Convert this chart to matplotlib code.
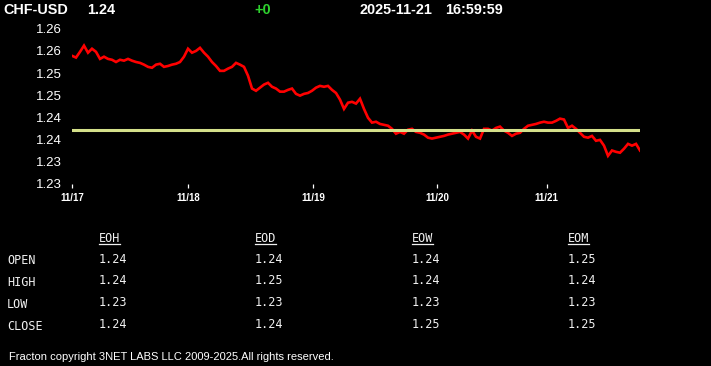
import matplotlib
matplotlib.use('Agg')
import matplotlib.pyplot as plt
from matplotlib.lines import Line2D
from matplotlib.ticker import FormatStrFormatter
import numpy as np

# --- data -----------------------------------------------------------------
symbol = 'CHF-USD'
last_price = '1.24'
change = '+0'
stamp_date = '2025-11-21'
stamp_time = '16:59:59'

price = [
    1.2569, 1.2565, 1.2578, 1.2592, 1.2576, 1.2585, 1.2578, 1.2562, 1.2567, 1.2562,
    1.2560, 1.2555, 1.2560, 1.2558, 1.2562, 1.2558, 1.2555, 1.2553, 1.2549, 1.2544,
    1.2542, 1.2549, 1.2551, 1.2544, 1.2546, 1.2549, 1.2551, 1.2555, 1.2567, 1.2585,
    1.2576, 1.2580, 1.2587, 1.2576, 1.2567, 1.2555, 1.2546, 1.2535, 1.2535, 1.2540,
    1.2544, 1.2553, 1.2549, 1.2544, 1.2524, 1.2495, 1.2490, 1.2497, 1.2504, 1.2508,
    1.2499, 1.2495, 1.2488, 1.2488, 1.2492, 1.2495, 1.2483, 1.2479, 1.2483, 1.2485,
    1.2490, 1.2497, 1.2501, 1.2499, 1.2501, 1.2492, 1.2485, 1.2470, 1.2449, 1.2463,
    1.2465, 1.2461, 1.2472, 1.2449, 1.2429, 1.2418, 1.2420, 1.2415, 1.2413, 1.2411,
    1.2404, 1.2393, 1.2397, 1.2393, 1.2402, 1.2404, 1.2397, 1.2395, 1.2391, 1.2384,
    1.2382, 1.2384, 1.2386, 1.2388, 1.2391, 1.2393, 1.2395, 1.2397, 1.2391, 1.2382,
    1.2400, 1.2386, 1.2382, 1.2404, 1.2404, 1.2400, 1.2406, 1.2409, 1.2400, 1.2395,
    1.2388, 1.2393, 1.2395, 1.2404, 1.2411, 1.2413, 1.2415, 1.2418, 1.2420, 1.2418,
    1.2418, 1.2422, 1.2427, 1.2425, 1.2406, 1.2411, 1.2404, 1.2395, 1.2386, 1.2384,
    1.2388, 1.2377, 1.2379, 1.2366, 1.2343, 1.2355, 1.2352, 1.2350, 1.2359, 1.2370,
    1.2366, 1.2370, 1.2355,
]
ref_level = 1.2402

# sample index where each day starts
day_pos = [0, 29.1, 60.3, 91.3, 118.7]
day_labels = ['11/17', '11/18', '11/19', '11/20', '11/21']

y_ticks = [1.228, 1.233, 1.238, 1.243, 1.248, 1.253, 1.258, 1.263]

row_names = ['OPEN', 'HIGH', 'LOW', 'CLOSE']
col_names = ['EOH', 'EOD', 'EOW', 'EOM']
eoh = ['1.24', '1.24', '1.23', '1.24']
eod = ['1.24', '1.25', '1.23', '1.24']
eow = ['1.24', '1.24', '1.23', '1.25']
eom = ['1.25', '1.24', '1.23', '1.25']

footer = 'Fracton copyright 3NET LABS LLC 2009-2025.All rights reserved.'

# --- figure ---------------------------------------------------------------
W, H = 711, 366
fig = plt.figure(figsize=(W / 100, H / 100), dpi=100, facecolor='black')


def px_text(x, y, s, **kw):
    """текст по пиксельным координатам (y сверху, по базовой линии)"""
    return fig.text(x / W, 1 - y / H, s, ha='left', va='baseline', **kw)


ax = fig.add_axes([72 / W, (H - 183.7) / H, 568 / W, 154.9 / H])
ax.set_facecolor('black')
x = np.arange(len(price))
ax.plot(x, price, color='#ff0000', lw=1.9, solid_joinstyle='miter')
ax.axhline(ref_level, color='#d4e08a', lw=2.2)
ax.set_xlim(0, len(price) - 1)
ax.set_ylim(y_ticks[0], y_ticks[-1])

for s in ax.spines.values():
    s.set_visible(False)

ax.set_yticks(y_ticks)
ax.yaxis.set_major_formatter(FormatStrFormatter('%.2f'))
ax.tick_params(axis='y', length=0, pad=7.3, labelcolor='white', labelsize=9.5)
ax.set_xticks(day_pos)
ax.set_xticklabels(day_labels, fontweight='bold', fontsize=7)
ax.tick_params(axis='x', length=3, width=0.9, color='white', pad=3.4, labelcolor='white')
for lbl in ax.get_yticklabels():
    lbl.set_family('Liberation Sans')
for lbl in ax.get_xticklabels():
    lbl.set_family('Liberation Sans')

# header
head = dict(family='Liberation Sans', fontweight='bold', fontsize=10.4, color='white')
px_text(3.5, 14, symbol, **head)
px_text(87, 14, last_price, **head)
px_text(254, 14, change, **{**head, 'color': '#2ed12e'})
px_text(359, 14, stamp_date, **head)
px_text(445, 14, stamp_time, **head)

# table
mono = dict(family='DejaVu Sans Mono', fontsize=8.5, color='#f0f0f0')
col_x = [99, 255, 412, 568]
row_y = [263, 284, 306, 328]
columns = [eoh, eod, eow, eom]

headers = []
for cx, name in zip(col_x, col_names):
    headers.append(px_text(cx, 242, name, **mono))
for ry, name in zip(row_y, row_names):
    px_text(7, ry + 1.5, name, **mono)
for cx, vals in zip(col_x, columns):
    for ry, v in zip(row_y, vals):
        px_text(cx, ry, v, **mono)

px_text(9, 359.5, footer, family='Liberation Sans', fontsize=8.0, color='white')

# underline column headers
renderer = fig.canvas.get_renderer()
for t in headers:
    bb = t.get_window_extent(renderer)
    yl = 1 - 244 / H
    fig.add_artist(Line2D([bb.x0 / W, bb.x1 / W], [yl, yl], transform=fig.transFigure,
                          color='#f0f0f0', lw=0.9))

fig.savefig('out.png', dpi=100, facecolor='black')
